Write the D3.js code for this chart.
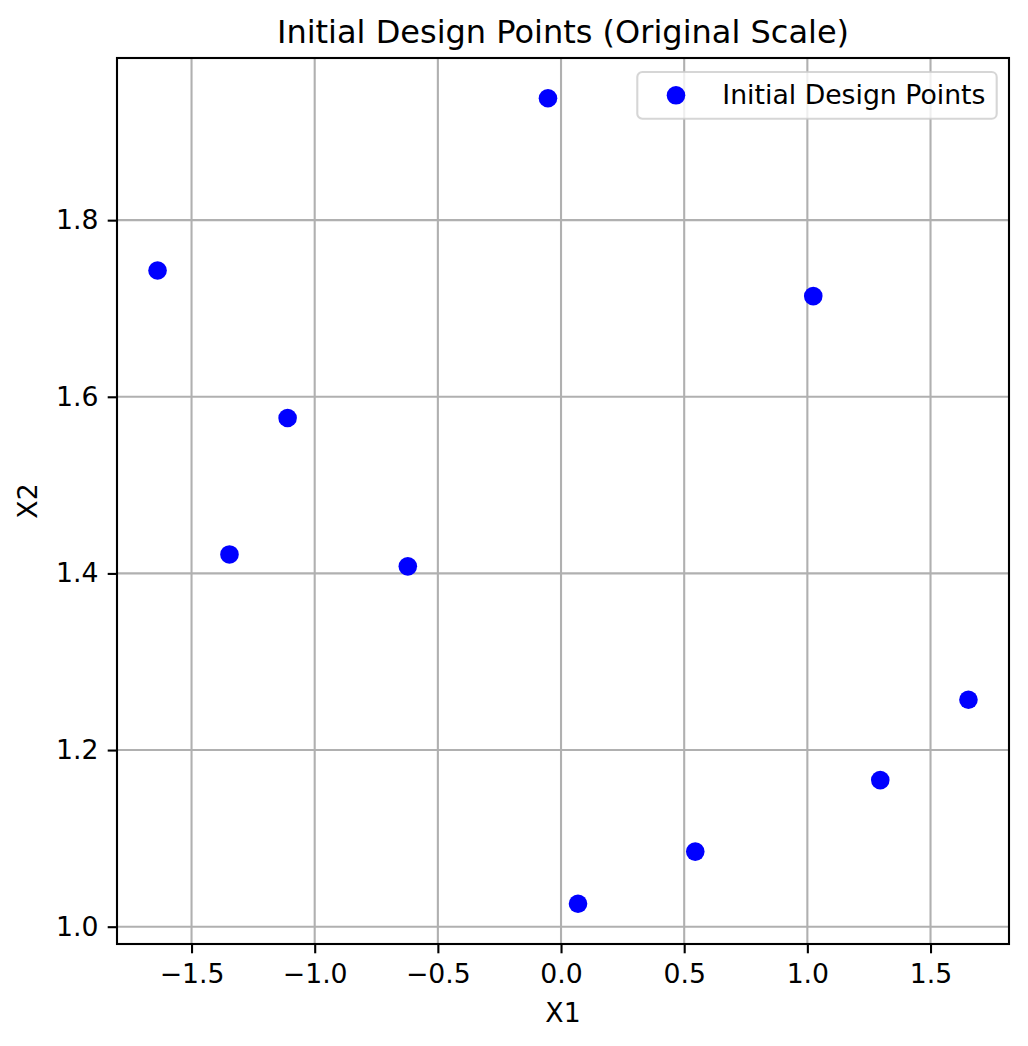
<!DOCTYPE html>
<meta charset="utf-8">
<script src="https://d3js.org/d3.v7.min.js"></script>
<style>
  body { margin: 0; background: #fff; }
  svg text { font-family: "DejaVu Sans", sans-serif; fill: #000; }
</style>
<div id="my_dataviz"></div>
<script>
// design points
var x1Values = [-1.638, -1.346, -1.110, -0.622, -0.053, 0.069, 0.545, 1.024, 1.296, 1.654];
var x2Values = [1.743, 1.4215, 1.576, 1.408, 1.938, 1.026, 1.085, 1.714, 1.166, 1.257];
var xTicks = [-1.5, -1.0, -0.5, 0.0, 0.5, 1.0, 1.5];
var yTicks = [1.0, 1.2, 1.4, 1.6, 1.8];
var seriesName = "Initial Design Points";

var W = 1028, H = 1046;
var margin = {top: 58, right: 19, bottom: 102, left: 117},
  width = W - margin.left - margin.right,
  height = H - margin.top - margin.bottom;

var lw = 2.1, tickFont = "26.7px";

var svg = d3.select("#my_dataviz")
  .append("svg")
    .attr("width", W)
    .attr("height", H)
  .append("g")
    .attr("transform", "translate(" + margin.left + "," + margin.top + ")");

// matplotlib-style 5% padding
var xExt = d3.extent(x1Values), yExt = d3.extent(x2Values);
var xPad = (xExt[1] - xExt[0]) * 0.05, yPad = (yExt[1] - yExt[0]) * 0.05;

var x = d3.scaleLinear().domain([xExt[0] - xPad, xExt[1] + xPad]).range([0, width]);
var y = d3.scaleLinear().domain([yExt[0] - yPad, yExt[1] + yPad]).range([height, 0]);

// grid
svg.append("g").selectAll("line").data(xTicks).enter().append("line")
  .attr("x1", function(d) { return x(d); }).attr("x2", function(d) { return x(d); })
  .attr("y1", 0).attr("y2", height)
  .style("stroke", "#b0b0b0").style("stroke-width", lw);
svg.append("g").selectAll("line").data(yTicks).enter().append("line")
  .attr("y1", function(d) { return y(d); }).attr("y2", function(d) { return y(d); })
  .attr("x1", 0).attr("x2", width)
  .style("stroke", "#b0b0b0").style("stroke-width", lw);

var fmt = function(d) { return d3.format(".1f")(d).replace("-", "\u2212"); };

// axes
var xAxis = svg.append("g")
  .attr("transform", "translate(0," + height + ")")
  .call(d3.axisBottom(x).tickValues(xTicks).tickFormat(fmt).tickSize(9.3).tickPadding(11));
var yAxis = svg.append("g")
  .call(d3.axisLeft(y).tickValues(yTicks).tickFormat(fmt).tickSize(9.3).tickPadding(9.3));
[xAxis, yAxis].forEach(function(a) {
  a.select(".domain").remove();
  a.selectAll(".tick line").style("stroke", "#000").style("stroke-width", lw);
  a.selectAll("text").style("font-size", tickFont).style("font-family", "DejaVu Sans");
});

// frame
svg.append("rect")
  .attr("x", 0).attr("y", 0).attr("width", width).attr("height", height)
  .style("fill", "none").style("stroke", "#000").style("stroke-width", lw);

// points
svg.selectAll("circle.pt")
  .data(x1Values.map(function(v, i) { return {x1: v, x2: x2Values[i]}; }))
  .enter()
  .append("circle")
    .attr("class", "pt")
    .attr("cx", function(d) { return x(d.x1); })
    .attr("cy", function(d) { return y(d.x2); })
    .attr("r", 9.3)
    .style("fill", "#0000ff");

// title and labels
svg.append("text")
  .attr("x", width / 2).attr("y", -15.5)
  .attr("text-anchor", "middle")
  .style("font-size", "32px")
  .text("Initial Design Points (Original Scale)");

svg.append("text")
  .attr("x", width / 2).attr("y", height + 78)
  .attr("text-anchor", "middle")
  .style("font-size", tickFont)
  .text("X1");

svg.append("text")
  .attr("transform", "translate(" + (-80) + "," + (height / 2) + ") rotate(-90)")
  .attr("text-anchor", "middle")
  .style("font-size", tickFont)
  .text("X2");

// legend
var legend = svg.append("g").attr("transform", "translate(" + (width - 371.7) + ",14)");
legend.append("rect")
  .attr("width", 359.4).attr("height", 46.7)
  .attr("rx", 5).attr("ry", 5)
  .style("fill", "#fff").style("fill-opacity", 0.8)
  .style("stroke", "#cccccc").style("stroke-opacity", 0.8).style("stroke-width", lw);
legend.append("circle")
  .attr("cx", 38.7).attr("cy", 23.3).attr("r", 9.3)
  .style("fill", "#0000ff");
legend.append("text")
  .attr("x", 85).attr("y", 32)
  .style("font-size", tickFont)
  .text(seriesName);
</script>
